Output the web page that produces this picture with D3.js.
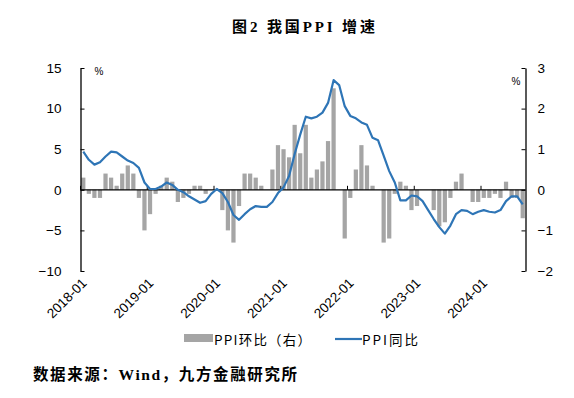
<!DOCTYPE html>
<html><head><meta charset="utf-8">
<script src="https://cdn.jsdelivr.net/npm/d3@7"></script>
<style>
html,body{margin:0;padding:0;background:#fff;}
svg{display:block;}
</style></head>
<body>
<script>
const months = [];
for (let y = 2018; y <= 2024; y++) for (let m = 1; m <= 12; m++) {
  if (y === 2024 && m > 8) break;
  months.push(y + "-" + String(m).padStart(2, "0"));
}
const yoy = [
  4.7, 3.7, 3.1, 3.4, 4.1, 4.7, 4.6, 4.1, 3.6, 3.3, 2.7, 0.9,
  0.1, 0.1, 0.4, 0.9, 0.6, 0.0, -0.3, -0.8, -1.2, -1.6, -1.4, -0.5,
  0.1, -0.4, -1.5, -3.1, -3.7, -3.0, -2.4, -2.0, -2.1, -2.1, -1.5, -0.4,
  0.3, 1.7, 4.4, 6.8, 9.0, 8.8, 9.0, 9.5, 10.7, 13.5, 12.9, 10.3,
  9.1, 8.8, 8.3, 8.0, 6.4, 6.1, 4.2, 2.3, 0.9, -1.3, -1.3, -0.7,
  -0.8, -1.4, -2.5, -3.6, -4.6, -5.4, -4.4, -3.0, -2.5, -2.6, -3.0, -2.7,
  -2.5, -2.7, -2.8, -2.5, -1.4, -0.8, -0.8, -1.8
];
const mom = [
  0.3, -0.1, -0.2, -0.2, 0.4, 0.3, 0.1, 0.4, 0.6, 0.4, -0.2, -1.0,
  -0.6, -0.1, 0.1, 0.3, 0.2, -0.3, -0.2, -0.1, 0.1, 0.1, -0.1, 0.0,
  0.0, -0.5, -1.0, -1.3, -0.4, 0.4, 0.4, 0.3, 0.1, 0.0, 0.5, 1.1,
  1.0, 0.8, 1.6, 0.9, 1.6, 0.3, 0.5, 0.7, 1.2, 2.5, 0.0, -1.2,
  -0.2, 0.5, 1.1, 0.6, 0.1, 0.0, -1.3, -1.2, -0.1, 0.2, 0.1, -0.5,
  -0.4, 0.0, 0.0, -0.5, -0.9, -0.8, -0.2, 0.2, 0.4, 0.0, -0.3, -0.3,
  -0.2, -0.2, -0.1, -0.2, 0.2, -0.2, -0.2, -0.7
];
const leftTicks = [-10, -5, 0, 5, 10, 15];
const rightTicks = [-2, -1, 0, 1, 2, 3];
const xTickLabels = ["2018-01", "2019-01", "2020-01", "2021-01", "2022-01", "2023-01", "2024-01"];
const title = "图2 我国PPI 增速";
const source = "数据来源：Wind，九方金融研究所";
const legendNames = ["PPI环比（右）", "PPI同比"];

const W = 574, H = 398;
const L = 80.5, R = 525.5, T = 68, B = 271;
const svg = d3.select("body").append("svg").attr("width", W).attr("height", H);

const pi = 0.24;
const x = d3.scaleBand().domain(months).range([L, R]).paddingInner(pi).paddingOuter(pi / 2);
const yL = d3.scaleLinear().domain([-10, 15]).range([B, T]);
const yR = d3.scaleLinear().domain([-2, 3]).range([B, T]);

const barColor = "#A5A5A5", lineColor = "#2E75B6";
const tickFont = "'Liberation Sans', Arial, sans-serif";

// bars
svg.append("g").selectAll("rect").data(mom).join("rect")
  .attr("x", (d, i) => x(months[i]))
  .attr("width", x.bandwidth())
  .attr("y", d => Math.min(yR(d), yR(0)))
  .attr("height", d => Math.abs(yR(d) - yR(0)))
  .attr("fill", barColor);

// zero axis
const bound = i => x(months[i]) - x.step() * pi / 2;
const zg = svg.append("g");
zg.append("line").attr("x1", L).attr("x2", R).attr("y1", yL(0)).attr("y2", yL(0))
  .attr("stroke", "#000").attr("stroke-width", 1.3);
xTickLabels.forEach(lab => {
  const i = months.indexOf(lab);
  const bx = bound(i);
  zg.append("line").attr("x1", bx).attr("x2", bx).attr("y1", yL(0)).attr("y2", yL(0) - 4)
    .attr("stroke", "#000").attr("stroke-width", 1);
  svg.append("text").attr("transform", `translate(${bx + 7},${284}) rotate(-45)`)
    .attr("text-anchor", "end").attr("font-family", tickFont).attr("font-size", 13.5)
    .attr("fill", "#000").text(lab);
});

// line
const line = d3.line().x((d, i) => x(months[i]) + x.bandwidth() / 2).y(d => yL(d));
svg.append("path").datum(yoy).attr("d", line).attr("fill", "none")
  .attr("stroke", lineColor).attr("stroke-width", 2.2).attr("stroke-linejoin", "round");

// axes
const ga = svg.append("g").attr("transform", `translate(${L},0)`)
  .call(d3.axisLeft(yL).tickValues(leftTicks).tickSizeInner(-4).tickSizeOuter(0).tickPadding(19));
const gb = svg.append("g").attr("transform", `translate(${R},0)`)
  .call(d3.axisRight(yR).tickValues(rightTicks).tickFormat(d3.format("d")).tickSizeInner(-4).tickSizeOuter(0).tickPadding(12));
[ga, gb].forEach(g => {
  g.selectAll("path").attr("stroke", "#000").attr("stroke-width", 1.3);
  g.selectAll("line").attr("stroke", "#000");
  g.selectAll("text").attr("font-family", tickFont).attr("font-size", 13.5).attr("fill", "#000");
});
gb.selectAll("text").text(d => d < 0 ? "\u2212" + Math.abs(d) : d);

svg.append("text").attr("x", 99).attr("y", 75).attr("text-anchor", "middle")
  .attr("font-family", tickFont).attr("font-size", 10).text("%");
svg.append("text").attr("x", 516).attr("y", 85).attr("text-anchor", "middle")
  .attr("font-family", tickFont).attr("font-size", 10).text("%");

// title
svg.append("text").attr("x", 232).attr("y", 32)
  .attr("font-family", "'Liberation Serif','Noto Sans CJK SC',serif").attr("font-weight", "bold")
  .attr("font-size", 15).attr("textLength", 143).attr("lengthAdjust", "spacing").text(title);

// legend
const lg = svg.append("g");
lg.append("rect").attr("x", 184).attr("y", 334).attr("width", 29).attr("height", 8).attr("fill", barColor);
lg.append("text").attr("x", 214).attr("y", 345).attr("font-family", "'Noto Sans CJK SC',sans-serif")
  .attr("font-size", 13.5).attr("textLength", 97).attr("lengthAdjust", "spacing").text(legendNames[0]);
lg.append("line").attr("x1", 335).attr("x2", 362).attr("y1", 339).attr("y2", 339)
  .attr("stroke", lineColor).attr("stroke-width", 2.2);
lg.append("text").attr("x", 362).attr("y", 345).attr("font-family", "'Noto Sans CJK SC',sans-serif")
  .attr("font-size", 13.5).attr("textLength", 56).attr("lengthAdjust", "spacing").text(legendNames[1]);

// source
svg.append("text").attr("x", 33).attr("y", 380)
  .attr("font-family", "'Liberation Serif','Noto Sans CJK SC',serif").attr("font-weight", "bold")
  .attr("font-size", 15.5).attr("textLength", 264).attr("lengthAdjust", "spacing").text(source);
</script>
</body></html>
